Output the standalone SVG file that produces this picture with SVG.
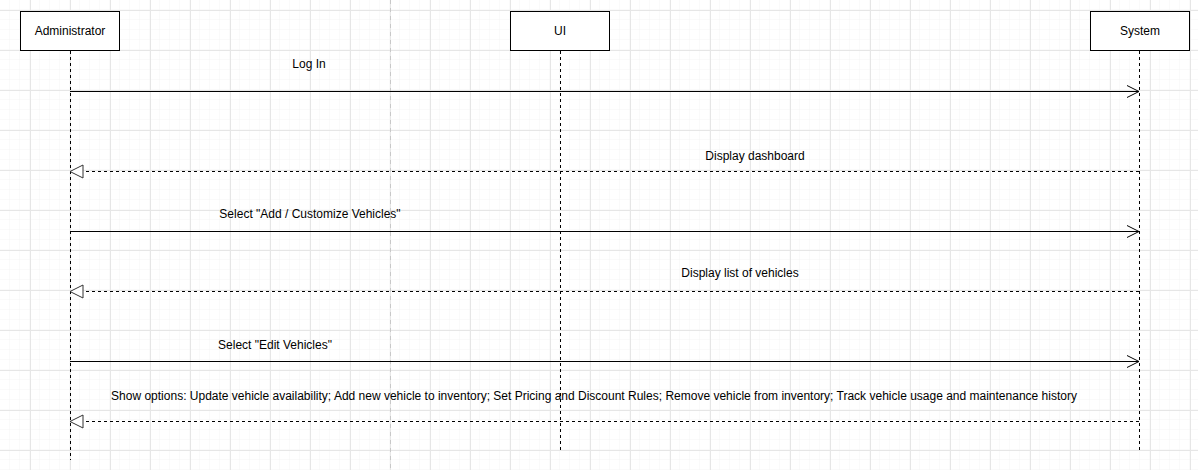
<svg xmlns="http://www.w3.org/2000/svg" width="1198" height="470" viewBox="0 0 1198 470">
<defs>
<pattern id="minor" width="10" height="10" patternUnits="userSpaceOnUse">
<path d="M10 0V10M0 10H10" fill="none" stroke="#f4f4f4" stroke-width="1"/>
</pattern>
<pattern id="major" x="30" y="10" width="40" height="40" patternUnits="userSpaceOnUse">
<path d="M0.5 0V40M0 0.5H40" fill="none" stroke="#e6e6e6" stroke-width="1"/>
</pattern>
<marker id="open" markerWidth="14" markerHeight="14" refX="12" refY="7" orient="auto" markerUnits="userSpaceOnUse">
<path d="M0 1L12 7L0 13" fill="none" stroke="#000" stroke-width="1"/>
</marker>
<marker id="tri" markerWidth="16" markerHeight="16" refX="14" refY="8" orient="auto" markerUnits="userSpaceOnUse">
<path d="M1 1.5L14 8L1 14.5Z" fill="#fff" stroke="#333" stroke-width="1"/>
</marker>
</defs>
<style>
.box{fill:#fff;stroke:#000;stroke-width:1}
.life{stroke:#000;stroke-width:1;stroke-dasharray:3 3;fill:none}
.msg{stroke:#000;stroke-width:1;fill:none;marker-end:url(#open)}
.ret{stroke:#000;stroke-width:1;fill:none;stroke-dasharray:3 3;marker-end:url(#tri)}
text{font-family:"Liberation Sans",Arial,sans-serif;font-size:12px;fill:#000;text-anchor:middle}
</style>
<rect width="1198" height="470" fill="#fff"/>
<rect width="1198" height="470" fill="url(#minor)"/>
<rect width="1198" height="470" fill="url(#major)"/>
<line x1="390.5" y1="0" x2="390.5" y2="470" stroke="#c8c8c8" stroke-dasharray="4 4"/>
<g id="administrator">
<rect class="box" x="20.5" y="11.5" width="99" height="39"/>
<text x="70" y="35">Administrator</text>
<line class="life" x1="70.5" y1="51" x2="70.5" y2="460"/>
</g>
<g id="ui">
<rect class="box" x="510.5" y="11.5" width="99" height="39"/>
<text x="560" y="35">UI</text>
<line class="life" x1="560.5" y1="51" x2="560.5" y2="450"/>
</g>
<g id="system">
<rect class="box" x="1090.5" y="11.5" width="99" height="39"/>
<text x="1140" y="35">System</text>
<line class="life" x1="1139.5" y1="51" x2="1139.5" y2="450"/>
</g>
<g id="connectors">
<line class="msg" x1="70" y1="91.5" x2="1139" y2="91.5"/>
<text x="309" y="68">Log In</text>
<line class="ret" x1="1139" y1="171.5" x2="70" y2="171.5"/>
<text x="755" y="160">Display dashboard</text>
<line class="msg" x1="70" y1="231.5" x2="1139" y2="231.5"/>
<text x="310" y="218">Select "Add / Customize Vehicles"</text>
<line class="ret" x1="1139" y1="291.5" x2="70" y2="291.5"/>
<text x="740" y="277">Display list of vehicles</text>
<line class="msg" x1="70" y1="361.5" x2="1139" y2="361.5"/>
<text x="275" y="349">Select "Edit Vehicles"</text>
<line class="ret" x1="1139" y1="421.5" x2="70" y2="421.5"/>
<text x="594" y="400">Show options: Update vehicle availability; Add new vehicle to inventory; Set Pricing and Discount Rules; Remove vehicle from inventory; Track vehicle usage and maintenance history</text>
</g>
</svg>
